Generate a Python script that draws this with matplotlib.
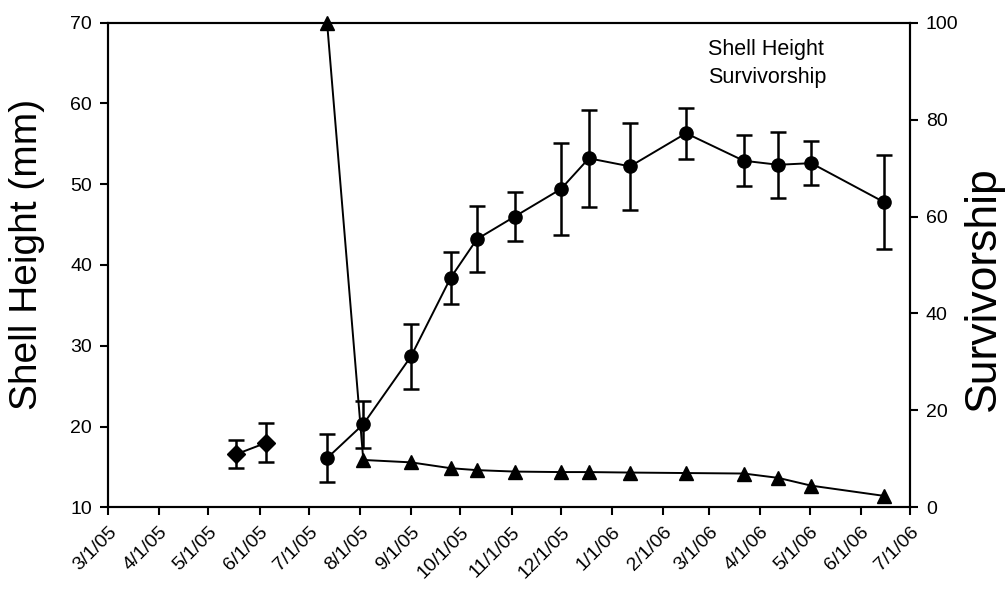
import matplotlib
matplotlib.use("Agg")
import matplotlib.pyplot as plt
import numpy as np
import pandas as pd

plt.rcParams["font.family"] = ["Liberation Sans", "DejaVu Sans"]

# Early samples (diamonds)
early_dates = ["2005-05-18", "2005-06-05"]
early_height = [16.6, 18.0]
early_err = [1.7, 2.4]

# Main sampling series
sample_dates = ["2005-07-12", "2005-08-03", "2005-09-01", "2005-09-25",
                "2005-10-11", "2005-11-03", "2005-12-01", "2005-12-18",
                "2006-01-12", "2006-02-15", "2006-03-22", "2006-04-12",
                "2006-05-02", "2006-06-15"]
shell_height = [16.1, 20.3, 28.7, 38.4, 43.2, 46.0, 49.4, 53.2,
                52.2, 56.3, 52.9, 52.4, 52.6, 47.8]
shell_err = [3.0, 2.9, 4.0, 3.2, 4.1, 3.05, 5.7, 6.0,
             5.4, 3.15, 3.15, 4.05, 2.7, 5.8]
survivorship = [100, 9.8, 9.3, 8.1, 7.7, 7.4, 7.3, 7.3,
                7.2, 7.1, 7.0, 6.1, 4.5, 2.4]

tick_months = pd.date_range("2005-03-01", "2006-07-01", freq="MS")

early_x = pd.to_datetime(early_dates)
sample_x = pd.to_datetime(sample_dates)

fig = plt.figure(figsize=(10.06, 5.99), dpi=100)
ax = fig.add_axes([0.1074, 0.1528, 0.7972, 0.8096])
ax2 = ax.twinx()

lw = 1.4
ax.errorbar(early_x, early_height, yerr=early_err, fmt="-D", color="black",
            markersize=9.5, lw=lw, elinewidth=1.8, capsize=6, capthick=1.8,
            clip_on=False)
ax.errorbar(sample_x, shell_height, yerr=shell_err, fmt="-o", color="black",
            markersize=9.5, lw=lw, elinewidth=1.8, capsize=6, capthick=1.8,
            clip_on=False)
ax2.plot(sample_x, survivorship, "-^", color="black", markersize=9.5,
         lw=lw, clip_on=False)

ax.set_xlim(tick_months[0], tick_months[-1])
ax.set_ylim(10, 70)
ax2.set_ylim(0, 100)
ax.set_yticks(np.arange(10, 71, 10))
ax2.set_yticks(np.arange(0, 101, 20))

ax.set_xticks(tick_months)
ax.set_xticklabels([f"{d.month}/{d.day}/{d:%y}" for d in tick_months],
                   rotation=45, ha="right", va="top", rotation_mode="anchor")

for a in (ax, ax2):
    for s in a.spines.values():
        s.set_linewidth(1.5)
    a.tick_params(direction="out", length=5.5, width=1.5, labelsize=14, pad=6)
ax.tick_params(axis="x", pad=6)

fig.text(27.5 / 1006, 1 - 254 / 599, "Shell Height (mm)", rotation=90,
         ha="center", va="center", fontsize=28)
fig.text(983 / 1006, 1 - 289 / 599, "Survivorship", rotation=90,
         ha="center", va="center", fontsize=32)

fig.text(708 / 1006, 1 - 49 / 599, "Shell Height", ha="left", va="center",
         fontsize=15.5)
fig.text(708 / 1006, 1 - 77 / 599, "Survivorship", ha="left", va="center",
         fontsize=15.5)

fig.savefig("out.png", dpi=100)
